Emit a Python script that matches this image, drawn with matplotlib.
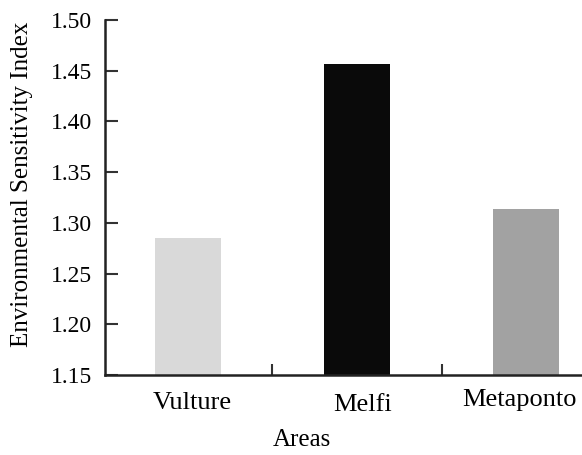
import matplotlib.pyplot as plt
from matplotlib.transforms import ScaledTranslation

plt.rcParams['font.family'] = ['Liberation Serif', 'DejaVu Serif']

# data
areas = ['Vulture', 'Melfi', 'Metaponto']
esi = [1.285, 1.457, 1.314]
bar_colors = ['#d9d9d9', '#0a0a0a', '#a2a2a2']
yticks = [1.15, 1.20, 1.25, 1.30, 1.35, 1.40, 1.45, 1.50]

fig = plt.figure(figsize=(5.82, 4.55), dpi=100)
ax = fig.add_axes([0.1804, 0.1758, 0.8196, 0.7802])

x = list(range(len(areas)))
ax.bar(x, esi, width=0.39, color=bar_colors, bottom=0)

ax.set_ylim(1.15, 1.50)
ax.set_xlim(-0.49, 2.33)
ax.set_yticks(yticks)
ax.set_yticklabels([f'{v:.2f}' for v in yticks], fontsize=17)

ax.set_xticks(x)
ax.set_xticklabels(areas, fontsize=19)
ax.tick_params(axis='x', which='major', length=0, pad=12)
ax.set_xticks([0.5, 1.5], minor=True)
ax.tick_params(axis='x', which='minor', direction='in', length=8, width=1.5, color='#333333')
ax.tick_params(axis='y', direction='in', length=9, width=1.5, color='#333333', pad=9.5)

# small per-label offsets as in the original (px)
offsets = [(4, 0), (6, -2), (-7, 3)]
for lab, (dx, dy) in zip(ax.get_xticklabels(), offsets):
    lab.set_transform(lab.get_transform() + ScaledTranslation(dx / 100, dy / 100, fig.dpi_scale_trans))

ax.spines['top'].set_visible(False)
ax.spines['right'].set_visible(False)
for s in ['left', 'bottom']:
    ax.spines[s].set_linewidth(1.8)
    ax.spines[s].set_color('#222222')

ax.set_xlabel('Areas', fontsize=18)
ax.set_ylabel('Environmental Sensitivity Index', fontsize=18)
ax.xaxis.set_label_coords(0.413, -0.152)
ax.yaxis.set_label_coords(-0.150, 0.538)

plt.savefig('out.png', dpi=100)
